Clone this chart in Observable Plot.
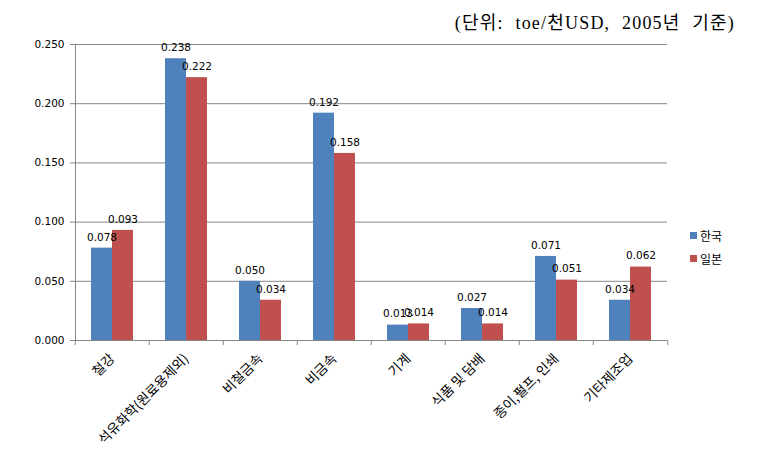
<!DOCTYPE html>
<html><head><meta charset="utf-8">
<script src="https://cdn.jsdelivr.net/npm/d3@7"></script>
<script src="https://cdn.jsdelivr.net/npm/@observablehq/plot@0.6"></script>
<style>
body{margin:0;background:#fff;}
#wrap{position:relative;width:784px;height:458px;overflow:hidden;}
#title{position:absolute;right:49px;top:8px;font-family:"Liberation Serif","Noto Sans CJK KR",serif;font-size:18px;letter-spacing:1.2px;word-spacing:6px;white-space:nowrap;color:#000;}
#legend{position:absolute;left:690px;top:224px;font-family:"Noto Sans CJK KR",sans-serif;font-size:12px;color:#000;}
.item{height:23px;line-height:18px;display:flex;align-items:center;}
.sw{width:7px;height:7px;margin-right:3px;}
</style></head><body>
<div id="wrap"><div id="chart"></div><div id="title"></div><div id="legend"></div></div>
<script>
const categories = ["철강","석유화학(원료용제외)","비철금속","비금속","기계","식품 및 담배","종이,펄프, 인쇄","기타제조업"];
const series = ["한국","일본"];
const korea = [0.078,0.238,0.050,0.192,0.013,0.027,0.071,0.034];
const japan = [0.093,0.222,0.034,0.158,0.014,0.014,0.051,0.062];
const yTicks = [0,0.05,0.1,0.15,0.2,0.25];
const colors = ["#4F81BD","#C0504D"];
const titleText = "(단위: toe/천USD, 2005년 기준)";

const rows = categories.flatMap((c,i)=>[
  {category:c, country:series[0], value:korea[i]},
  {category:c, country:series[1], value:japan[i]}
]);

const gray = "#868686";
const chart = Plot.plot({
  width:784, height:458,
  marginLeft:73, marginRight:115, marginTop:44, marginBottom:118,
  style:{fontFamily:"DejaVu Sans, sans-serif", fontSize:"10.5px", color:"#000", background:"#fff"},
  fx:{domain:categories, padding:0, label:null},
  x:{domain:series, paddingInner:0, paddingOuter:0.73, axis:null},
  y:{domain:[0,0.25], label:null},
  color:{domain:series, range:colors},
  marks:[
    Plot.ruleY(yTicks, {stroke:gray, strokeOpacity:1}),
    Plot.barY(rows, {fx:"category", x:"country", y:"value", fill:"country"}),
    Plot.text(rows, {fx:"category", x:"country", y:"value", text:d=>d.value.toFixed(3), dy:-11, fill:"#000", fontSize:10.5}),
    Plot.frame({anchor:"left", stroke:gray, facet:"super"}),
    Plot.axisY({ticks:yTicks, tickFormat:".3f", tickSize:5, tickPadding:6, stroke:gray, label:null, fontSize:10.5}),
    Plot.axisFx({anchor:"bottom", tickSize:0, tickRotate:-45, tickPadding:16, fontFamily:"Noto Sans CJK KR, sans-serif", fontSize:13.5, label:null}),
    Plot.axisFx({anchor:"bottom", tickSize:5, dx:-37.25, stroke:gray, tickFormat:()=>"", label:null}),
    Plot.axisFx({anchor:"bottom", ticks:[categories[categories.length-1]], tickSize:5, dx:37.25, stroke:gray, tickFormat:()=>"", label:null})
  ]
});
document.getElementById("chart").appendChild(chart);
document.getElementById("title").textContent = titleText;
const leg = document.getElementById("legend");
series.forEach((s,i)=>{
  const it = document.createElement("div"); it.className="item";
  const sw = document.createElement("span"); sw.className="sw"; sw.style.background = colors[i];
  const t = document.createElement("span"); t.textContent = s;
  it.appendChild(sw); it.appendChild(t); leg.appendChild(it);
});
</script>
</body></html>
